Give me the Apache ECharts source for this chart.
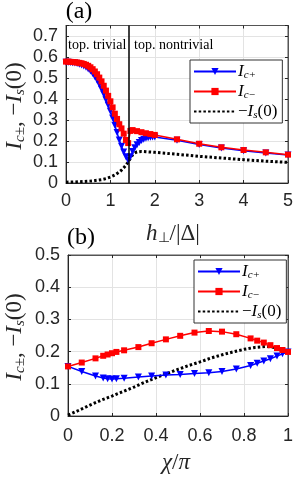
<!DOCTYPE html>
<html><head><meta charset="utf-8">
<script src="https://cdn.jsdelivr.net/npm/echarts@6/dist/echarts.min.js"></script>
<style>html,body{margin:0;padding:0;background:#fff}#c{width:296px;height:478px}</style>
</head><body><div id="c"></div>
<script>
// ---------- panel (a) data ----------
const hBlueA = [0,0.05,0.1,0.15,0.2,0.25,0.3,0.35,0.4,0.45,0.5,0.55,0.6,0.65,0.7,0.75,0.8,0.85,0.9,0.95,1.0,1.05,1.1,1.15,1.2,1.25,1.3,1.35,1.4,
  1.45,1.5,1.55,1.6,1.65,1.7,1.75,1.8,1.85,1.9,1.95,2.0,2.5,3,3.5,4,4.5,5];
const icPlusA = [0.575,0.575,0.574,0.573,0.571,0.569,0.566,0.562,0.557,0.551,0.543,0.533,0.521,0.506,0.489,0.469,0.447,0.423,0.397,0.37,0.342,0.31,0.275,0.24,0.205,0.175,0.148,0.125,0.108,
  0.125,0.15,0.168,0.182,0.193,0.202,0.208,0.213,0.216,0.218,0.219,0.219,0.204,0.183,0.167,0.154,0.143,0.133];
const hRedA = [0,0.05,0.1,0.15,0.2,0.25,0.3,0.35,0.4,0.45,0.5,0.55,0.6,0.65,0.7,0.75,0.8,0.85,0.9,0.95,1.0,1.05,1.1,1.15,1.2,1.25,1.3,1.35,1.4,
  1.45,1.5,1.6,1.7,1.8,1.9,2.0,2.5,3,3.5,4,4.5,5];
const icMinusA = [0.578,0.578,0.577,0.576,0.575,0.574,0.572,0.57,0.567,0.563,0.558,0.551,0.542,0.531,0.518,0.502,0.484,0.463,0.44,0.415,0.389,0.36,0.33,0.305,0.28,0.26,0.235,0.205,0.19,
  0.248,0.252,0.247,0.242,0.237,0.233,0.229,0.208,0.187,0.17,0.157,0.146,0.135];
const hIsA = [0,0.2,0.4,0.6,0.8,0.9,1.0,1.1,1.2,1.25,1.3,1.35,1.4,1.45,1.5,1.55,1.6,1.7,1.8,2.0,2.5,3,3.5,4,4.5,5];
const isA = [0.004,0.005,0.007,0.01,0.016,0.021,0.028,0.038,0.052,0.061,0.072,0.085,0.1,0.118,0.134,0.143,0.148,0.15,0.149,0.146,0.137,0.127,0.119,0.111,0.104,0.098];
const hCrit = 1.414;
const xTicksA = ['0','1','2','3','4','5'];
const yTicksA = ['0','0.1','0.2','0.3','0.4','0.5','0.6','0.7'];

// ---------- panel (b) data ----------
const chiB = [0,0.0625,0.125,0.16,0.18,0.2,0.22,0.255,0.32,0.38,0.445,0.51,0.575,0.64,0.70,0.765,0.83,0.86,0.89,0.92,0.95,0.975,1];
const icPlusB = [0.154,0.138,0.124,0.118,0.116,0.115,0.116,0.117,0.121,0.124,0.127,0.129,0.132,0.134,0.138,0.146,0.157,0.164,0.171,0.178,0.186,0.193,0.199];
const icMinusB = [0.154,0.166,0.179,0.187,0.191,0.195,0.199,0.204,0.214,0.226,0.238,0.249,0.259,0.264,0.262,0.254,0.241,0.234,0.228,0.22,0.211,0.205,0.199];
const chiIsB = [0,0.05,0.1,0.15,0.2,0.25,0.3,0.35,0.4,0.45,0.5,0.55,0.6,0.65,0.7,0.75,0.8,0.85,0.9,0.95,1.0];
const isB = [0.003,0.018,0.034,0.049,0.062,0.076,0.09,0.105,0.119,0.132,0.145,0.157,0.168,0.18,0.19,0.199,0.207,0.213,0.216,0.212,0.2];
const xTicksB = ['0','0.2','0.4','0.6','0.8','1'];
const yTicksB = ['0','0.1','0.2','0.3','0.4','0.5'];

const legendNames = ['Ic+','Ic−','−Is(0)'];

const zip = (xs, ys) => xs.map((x, i) => [x, ys[i]]);
const BLUE = '#0000ff', RED = '#ff0000', BLACK = '#000000';
const AX = '#262626', GRIDC = '#e3e3e3', BORDER = '#555555';
const numFont = 'Liberation Sans';
const serif = 'Liberation Serif';

function tickFmt(labels, step) { return (v) => labels[Math.round(v / step)] || ''; }

function xAxisDef(gi, min, max, interval, labels, withLabels, margin) {
  return {
    type: 'value', gridIndex: gi, min, max, interval,
    position: withLabels ? 'bottom' : 'top',
    axisLine: { show: true, onZero: false, lineStyle: { color: withLabels ? AX : BORDER, width: 1 } },
    axisTick: { show: true, inside: true, length: 3, lineStyle: { color: AX } },
    axisLabel: { show: withLabels, color: AX, fontFamily: numFont, fontSize: 18, margin, formatter: tickFmt(labels, interval) },
    splitLine: { show: withLabels, lineStyle: { color: GRIDC, width: 1 } }
  };
}
function yAxisDef(gi, min, max, interval, labels, withLabels) {
  return {
    type: 'value', gridIndex: gi, min, max, interval,
    position: withLabels ? 'left' : 'right',
    axisLine: { show: true, onZero: false, lineStyle: { color: withLabels ? AX : BORDER, width: 1 } },
    axisTick: { show: true, inside: true, length: 3, lineStyle: { color: AX } },
    axisLabel: { show: withLabels, color: AX, fontFamily: numFont, fontSize: 18, margin: 8, formatter: tickFmt(labels, interval) },
    splitLine: { show: withLabels, lineStyle: { color: GRIDC, width: 1 } }
  };
}

const richLegend = {
  i: { fontFamily: serif, fontStyle: 'italic', fontSize: 17, color: '#000', lineHeight: 18 },
  s: { fontFamily: serif, fontStyle: 'italic', fontSize: 11, color: '#000', padding: [8, 0, 0, 0], lineHeight: 18 },
  n: { fontFamily: serif, fontSize: 17, color: '#000', lineHeight: 18 }
};
function legendFmt(name) {
  if (name === 'Ic+') return '{i|I}{s|c+}';
  if (name === 'Ic−') return '{i|I}{s|c−}';
  return '{n|−}{i|I}{s|s}{n|(0)}';
}
function legendDef(left, top) {
  return {
    data: [{ name: legendNames[0] }, { name: legendNames[1] }, { name: legendNames[2], itemStyle: { opacity: 0 } }],
    orient: 'vertical', left, top,
    backgroundColor: '#fff', borderColor: '#333', borderWidth: 1, borderRadius: 0,
    padding: [2, 5, 2, 3], itemWidth: 42, itemHeight: 9, itemGap: 1,
    selectedMode: false,
    formatter: legendFmt,
    textStyle: { rich: richLegend, padding: [0, 0, 0, -3] }
  };
}

function mkLine(name, data, color, sym, xi, yi, extra) {
  return Object.assign({
    name, type: 'line', data, xAxisIndex: xi, yAxisIndex: yi,
    symbol: sym, symbolSize: sym === 'rect' ? 6 : 7, symbolRotate: sym === 'triangle' ? 180 : 0,
    showSymbol: true, showAllSymbol: true,
    lineStyle: { color, width: 1.5 }, itemStyle: { color, borderWidth: 0 },
    z: 3
  }, extra || {});
}
function mkDotted(data, xi, yi) {
  return {
    name: '−Is(0)', type: 'line', data, xAxisIndex: xi, yAxisIndex: yi,
    symbol: 'none', showSymbol: false,
    lineStyle: { color: BLACK, width: 3, type: [2.5, 2.2], cap: 'butt' },
    itemStyle: { color: BLACK }, z: 2
  };
}

const yNameRich = {
  i: { fontFamily: serif, fontStyle: 'italic', fontSize: 23, fill: AX },
  s: { fontFamily: serif, fontStyle: 'italic', fontSize: 15, fill: AX, padding: [10, 0, 0, 0] },
  n: { fontFamily: serif, fontSize: 23, fill: AX }
};
const yNameText = '{i|I}{s|c±}{n|, −}{i|I}{s|s}{n|(0)}';

const option = {
  animation: false,
  grid: [
    { left: 66, top: 25.5, width: 225, height: 157.5, show: true, borderColor: BORDER, borderWidth: 1, backgroundColor: '#fff' },
    { left: 68, top: 255, width: 223, height: 161, show: true, borderColor: BORDER, borderWidth: 1, backgroundColor: '#fff' }
  ],
  xAxis: [
    xAxisDef(0, 0, 5, 1, xTicksA, true, 9), xAxisDef(0, 0, 5, 1, xTicksA, false, 9),
    xAxisDef(1, 0, 1, 0.2, xTicksB, true, 11), xAxisDef(1, 0, 1, 0.2, xTicksB, false, 11)
  ],
  yAxis: [
    yAxisDef(0, 0, 0.75, 0.1, yTicksA, true), yAxisDef(0, 0, 0.75, 0.1, yTicksA, false),
    yAxisDef(1, 0, 0.5, 0.1, yTicksB, true), yAxisDef(1, 0, 0.5, 0.1, yTicksB, false)
  ],
  legend: [legendDef(190, 60), legendDef(194, 260)],
  series: [
    mkDotted(zip(hIsA, isA), 0, 0),
    mkLine('Ic+', zip(hBlueA, icPlusA), BLUE, 'triangle', 0, 0),
    mkLine('Ic−', zip(hRedA, icMinusA), RED, 'rect', 0, 0, {
      markLine: { silent: true, symbol: 'none', label: { show: false },
        lineStyle: { color: '#000', width: 1.5, type: 'solid' }, data: [{ xAxis: hCrit }] }
    }),
    mkDotted(zip(chiIsB, isB), 2, 2),
    mkLine('Ic+', zip(chiB, icPlusB), BLUE, 'triangle', 2, 2),
    mkLine('Ic−', zip(chiB, icMinusB), RED, 'rect', 2, 2)
  ],
  graphic: [
    { type: 'text', x: 79, y: 12, style: { text: '(a)', font: '24px "Liberation Serif"', fill: '#000', align: 'center', verticalAlign: 'middle' }, z: 10 },
    { type: 'text', x: 81, y: 238, style: { text: '(b)', font: '24px "Liberation Serif"', fill: '#000', align: 'center', verticalAlign: 'middle' }, z: 10 },
    { type: 'text', x: 68, y: 45, style: { text: 'top. trivial', font: '14px "Liberation Serif"', fill: '#000', align: 'left', verticalAlign: 'middle' }, z: 10 },
    { type: 'text', x: 134, y: 45, style: { text: 'top. nontrivial', font: '14px "Liberation Serif"', fill: '#000', align: 'left', verticalAlign: 'middle' }, z: 10 },
    { type: 'text', x: 173, y: 234, style: { text: '{i|h}{s|⊥}{n|/|Δ|}', rich: {
        i: { fontFamily: serif, fontStyle: 'italic', fontSize: 23, fill: AX },
        s: { fontFamily: serif, fontSize: 14, fill: AX, padding: [9, 0, 0, 0] },
        n: { fontFamily: serif, fontSize: 23, fill: AX } }, align: 'center', verticalAlign: 'middle' }, z: 10 },
    { type: 'text', x: 176, y: 463, style: { text: '{i|χ}{n|/}{i|π}', rich: {
        i: { fontFamily: serif, fontStyle: 'italic', fontSize: 23, fill: AX },
        n: { fontFamily: serif, fontSize: 23, fill: AX } }, align: 'center', verticalAlign: 'middle' }, z: 10 },
    { type: 'text', x: 15, y: 106, rotation: Math.PI / 2, style: { text: yNameText, rich: yNameRich, align: 'center', verticalAlign: 'middle' }, z: 10 },
    { type: 'text', x: 15, y: 337, rotation: Math.PI / 2, style: { text: yNameText, rich: yNameRich, align: 'center', verticalAlign: 'middle' }, z: 10 }
  ]
};

const chart = echarts.init(document.getElementById('c'), null, { renderer: 'canvas' });
chart.setOption(option);
</script>
</body></html>
